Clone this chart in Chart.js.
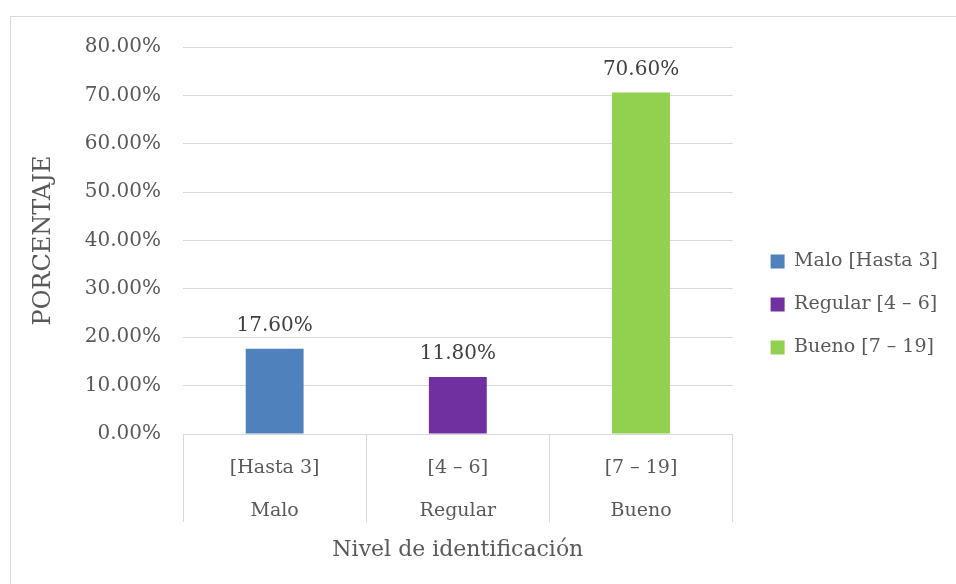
<!DOCTYPE html>
<html>
<head>
<meta charset="utf-8">
<script src="https://cdn.jsdelivr.net/npm/chart.js@4.4.1/dist/chart.umd.min.js"></script>
<style>
  html, body { margin: 0; padding: 0; background: #ffffff; }
  #wrap { width: 956px; height: 584px; position: relative; }
</style>
</head>
<body>
<div id="wrap"><canvas id="c" width="956" height="584"></canvas></div>
<script>
const categories = [["[Hasta 3]", "Malo"], ["[4 \u2013 6]", "Regular"], ["[7 \u2013 19]", "Bueno"]];
const seriesNames = ["Malo [Hasta 3]", "Regular [4 \u2013 6]", "Bueno [7 \u2013 19]"];
const seriesValues = [17.6, 11.8, 70.6];
const seriesColors = ["#4F81BD", "#7030A0", "#92D050"];
const yTicks = [0, 10, 20, 30, 40, 50, 60, 70, 80];
const yTitle = "PORCENTAJE";
const xTitle = "Nivel de identificación";

const FONT = "'DejaVu Serif', 'Liberation Serif', serif";

const datasets = seriesNames.map((name, i) => ({
  label: name,
  data: seriesValues.map((v, j) => (j === i ? v : null)),
  backgroundColor: seriesColors[i],
  borderWidth: 0,
  grouped: false,
  barPercentage: 0.316,
  categoryPercentage: 1.0
}));

const frame = {
  id: 'frame',
  beforeDraw(chart) {
    const ctx = chart.ctx;
    ctx.save();
    ctx.fillStyle = '#ffffff';
    ctx.fillRect(0, 0, chart.width, chart.height);
    ctx.strokeStyle = '#d9d9d9';
    ctx.lineWidth = 1;
    ctx.beginPath();
    ctx.moveTo(10.5, chart.height);
    ctx.lineTo(10.5, 16.5);
    ctx.lineTo(chart.width, 16.5);
    ctx.stroke();
    ctx.restore();
  }
};

const valueLabels = {
  id: 'valueLabels',
  afterDatasetsDraw(chart) {
    const ctx = chart.ctx;
    ctx.save();
    ctx.font = "20px " + FONT;
    ctx.fillStyle = '#404040';
    ctx.textAlign = 'center';
    ctx.textBaseline = 'middle';
    chart.data.datasets.forEach((ds, di) => {
      const meta = chart.getDatasetMeta(di);
      meta.data.forEach((el, i) => {
        const v = ds.data[i];
        if (v === null || v === undefined) return;
        ctx.fillText(v.toFixed(2) + '%', el.x, el.y - 23);
      });
    });
    ctx.restore();
  }
};

new Chart(document.getElementById('c'), {
  type: 'bar',
  data: { labels: categories, datasets: datasets },
  plugins: [frame, valueLabels],
  options: {
    responsive: false,
    devicePixelRatio: 1,
    animation: false,
    layout: { padding: { top: 47, left: 10, right: 8, bottom: 22 } },
    plugins: {
      tooltip: { enabled: false },
      legend: {
        position: 'right',
        maxWidth: 260,
        labels: {
          boxWidth: 14,
          boxHeight: 14,
          padding: 24,
          color: '#595959',
          font: { family: FONT, size: 19 }
        }
      }
    },
    scales: {
      x: {
        grid: {
          display: true,
          offset: true,
          drawOnChartArea: false,
          drawTicks: true,
          tickLength: 88,
          color: '#d9d9d9',
          tickColor: '#d9d9d9'
        },
        border: { display: true, color: '#d9d9d9' },
        ticks: {
          color: '#595959',
          font: { family: FONT, size: 19, lineHeight: 43 / 19 },
          padding: -75,
          maxRotation: 0,
          autoSkip: false
        },
        title: {
          display: true,
          text: xTitle,
          color: '#595959',
          font: { family: FONT, size: 22, lineHeight: 1.2 },
          padding: { top: 78.6, bottom: -1 }
        }
      },
      y: {
        min: 0,
        max: 80,
        afterBuildTicks(scale) { scale.ticks = yTicks.map(v => ({ value: v })); },
        grid: { color: '#d9d9d9', drawTicks: false },
        border: { display: false },
        ticks: {
          color: '#595959',
          font: { family: FONT, size: 20 },
          padding: 22,
          callback: (v) => Number(v).toFixed(2) + '%'
        },
        title: {
          display: true,
          text: yTitle,
          color: '#595959',
          font: { family: FONT, size: 24, lineHeight: 1.2 },
          padding: { top: 19, bottom: 5 }
        }
      },
      gap: {
        position: 'right',
        display: false,
        afterFit(scale) { scale.width = 14; }
      }
    }
  }
});
</script>
</body>
</html>
